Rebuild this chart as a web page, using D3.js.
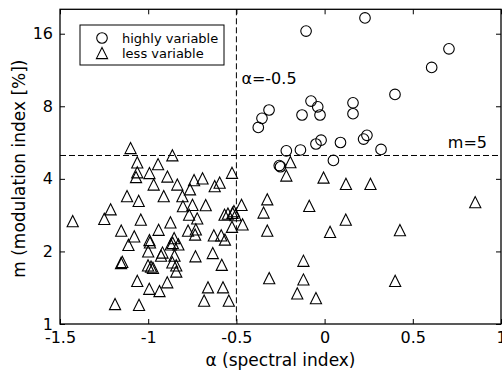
<!DOCTYPE html>
<html>
<head>
<meta charset="utf-8">
<script src="https://cdn.jsdelivr.net/npm/d3@7"></script>
<style>
  html, body { margin: 0; padding: 0; background: #fff; }
  svg { display: block; font-family: "DejaVu Sans", sans-serif; }
</style>
</head>
<body>
<div id="container"></div>
<script>
// [alpha, m] pairs
const highlyVariable = [
  [0.229, 18.6], [-0.105, 16.4], [0.705, 13.85], [0.607, 11.6], [0.399, 8.96],
  [-0.315, 7.72], [-0.355, 7.13], [-0.376, 6.54], [-0.077, 8.41], [-0.039, 7.96],
  [-0.026, 7.36], [-0.128, 7.36], [0.161, 8.27], [0.161, 7.45], [-0.020, 5.79],
  [-0.049, 5.58], [0.090, 5.66], [0.240, 6.06], [0.221, 5.85], [0.320, 5.30],
  [-0.137, 5.27], [-0.217, 5.23], [0.050, 4.77], [-0.257, 4.54], [-0.250, 4.49]
];

const lessVariable = [
  [-1.100, 5.37], [-0.863, 5.01], [-1.062, 4.68], [-0.944, 4.60], [-1.062, 4.26],
  [-1.069, 4.07], [-0.993, 4.23], [-0.891, 4.09], [-0.525, 4.24], [-0.740, 3.95],
  [-0.692, 4.02], [-0.595, 3.86], [-0.623, 3.73], [-0.969, 3.79], [-0.835, 3.79],
  [-0.763, 3.62], [-1.120, 3.39], [-1.054, 3.24], [-0.912, 3.39], [-0.806, 3.39],
  [-1.213, 2.99], [-1.249, 2.73], [-1.428, 2.67], [-1.042, 2.71], [-0.749, 3.12],
  [-0.803, 3.08], [-0.674, 3.11], [-0.471, 3.12], [-0.768, 2.84], [-0.722, 2.74],
  [-0.874, 2.64], [-0.941, 2.46], [-1.153, 2.44], [-1.079, 2.31], [-1.112, 2.13],
  [-0.993, 2.23], [-0.990, 2.18], [-1.000, 2.00], [-0.919, 1.98], [-0.927, 1.92],
  [-0.861, 2.17], [-0.853, 2.27], [-0.829, 2.14], [-0.872, 2.14], [-0.851, 1.92],
  [-0.774, 2.44], [-0.730, 2.47], [-0.734, 2.35], [-0.732, 1.91], [-0.628, 2.33],
  [-0.586, 2.33], [-0.565, 2.24], [-0.634, 1.97], [-0.583, 1.76], [-0.567, 2.84],
  [-0.548, 2.87], [-0.522, 2.89], [-0.514, 2.94], [-0.505, 2.83], [-0.525, 2.53],
  [-0.465, 2.59], [-1.147, 1.81], [-1.154, 1.79], [-1.001, 1.75], [-0.984, 1.73],
  [-0.973, 1.71], [-0.841, 1.75], [-0.863, 1.80], [-0.841, 1.65], [-1.062, 1.51],
  [-0.994, 1.40], [-0.936, 1.37], [-0.892, 1.49], [-1.188, 1.21], [-1.052, 1.20],
  [-0.661, 1.42], [-0.576, 1.42], [-0.683, 1.25], [-0.543, 1.25],
  [-0.194, 4.69], [-0.217, 4.13], [-0.006, 4.05], [0.121, 3.81], [0.260, 3.81],
  [-0.325, 3.29], [-0.346, 2.90], [-0.325, 2.44], [-0.087, 3.09], [0.120, 2.71],
  [0.031, 2.41], [0.427, 2.45], [0.854, 3.20], [-0.120, 1.83], [-0.120, 1.53],
  [-0.314, 1.55], [-0.155, 1.34], [-0.049, 1.28], [0.400, 1.51]
];

const xTicks = [-1.5, -1, -0.5, 0, 0.5, 1];
const xTickLabels = ['-1.5', '-1', '-0.5', '0', '0.5', '1'];
const yTicks = [1, 2, 4, 8, 16];
const alphaCut = -0.5;
const mCut = 5;

const width = 502;
const height = 372;
const plotLeft = 60, plotRight = 501, plotTop = 9.3, plotBottom = 324;

const svg = d3.select('#container')
  .append('svg')
  .attr('width', width)
  .attr('height', height);

const x = d3.scaleLinear().domain([-1.5, 1]).range([plotLeft, plotRight]);
const y = d3.scaleLog().base(2).domain([1, 20.2]).range([plotBottom, plotTop]);

// dashed guide lines
svg.append('line')
  .attr('x1', x(alphaCut)).attr('x2', x(alphaCut))
  .attr('y1', plotTop).attr('y2', plotBottom)
  .attr('stroke', '#000').attr('stroke-width', 1)
  .attr('stroke-dasharray', '6,3');

svg.append('line')
  .attr('x1', plotLeft).attr('x2', plotRight)
  .attr('y1', y(mCut)).attr('y2', y(mCut))
  .attr('stroke', '#000').attr('stroke-width', 1)
  .attr('stroke-dasharray', '6,3');

const tri = 'M0,-5.6L-5.6,5.6L5.6,5.6Z';

svg.append('g')
  .selectAll('path')
  .data(lessVariable)
  .join('path')
  .attr('d', tri)
  .attr('transform', d => `translate(${x(d[0])},${y(d[1])})`)
  .attr('fill', 'none')
  .attr('stroke', '#000')
  .attr('stroke-width', 1.1);

svg.append('g')
  .selectAll('circle')
  .data(highlyVariable)
  .join('circle')
  .attr('cx', d => x(d[0]))
  .attr('cy', d => y(d[1]))
  .attr('r', 5.3)
  .attr('fill', 'none')
  .attr('stroke', '#000')
  .attr('stroke-width', 1.1);

// axes, ticks pointing inwards
const fmt = d => xTickLabels[xTicks.indexOf(d)];

const gx = svg.append('g')
  .attr('transform', `translate(0,${plotBottom})`)
  .call(d3.axisBottom(x).tickValues(xTicks).tickFormat(fmt).tickSize(-5).tickSizeOuter(0).tickPadding(8));
const gxt = svg.append('g')
  .attr('transform', `translate(0,${plotTop})`)
  .call(d3.axisTop(x).tickValues(xTicks).tickFormat('').tickSize(-5).tickSizeOuter(0));
const gy = svg.append('g')
  .attr('transform', `translate(${plotLeft},0)`)
  .call(d3.axisLeft(y).tickValues(yTicks).tickFormat(d3.format('d')).tickSize(-5).tickSizeOuter(0).tickPadding(7));
const gyr = svg.append('g')
  .attr('transform', `translate(${plotRight},0)`)
  .call(d3.axisRight(y).tickValues(yTicks).tickFormat('').tickSize(-5).tickSizeOuter(0));

[gx, gxt, gy, gyr].forEach(g => {
  g.select('.domain').remove();
  g.selectAll('.tick line').attr('stroke', '#000').attr('stroke-width', 1);
  g.selectAll('text')
    .attr('fill', '#000')
    .style('font-family', '"DejaVu Sans", sans-serif')
    .style('font-size', '16px');
});

svg.append('rect')
  .attr('x', plotLeft).attr('y', plotTop)
  .attr('width', plotRight - plotLeft).attr('height', plotBottom - plotTop)
  .attr('fill', 'none')
  .attr('stroke', '#000')
  .attr('stroke-width', 1.3);

// axis titles
svg.append('text')
  .attr('x', (plotLeft + plotRight) / 2)
  .attr('y', 366)
  .attr('text-anchor', 'middle')
  .style('font-size', '17px')
  .text('α (spectral index)');

svg.append('text')
  .attr('transform', `translate(25,${(plotTop + plotBottom) / 2 + 2}) rotate(-90)`)
  .attr('text-anchor', 'middle')
  .style('font-size', '17px')
  .text('m (modulation index [%])');

// annotations
svg.append('text')
  .attr('x', x(alphaCut) + 5)
  .attr('y', 84)
  .style('font-size', '16px')
  .text('α=-0.5');

svg.append('text')
  .attr('x', 487)
  .attr('y', y(mCut) - 7)
  .attr('text-anchor', 'end')
  .style('font-size', '16px')
  .text('m=5');

// legend
const legend = svg.append('g');
legend.append('rect')
  .attr('x', 80).attr('y', 25)
  .attr('width', 144).attr('height', 40)
  .attr('fill', '#fff')
  .attr('stroke', '#000')
  .attr('stroke-width', 1);
legend.append('circle')
  .attr('cx', 102).attr('cy', 38).attr('r', 5.3)
  .attr('fill', 'none').attr('stroke', '#000').attr('stroke-width', 1.1);
legend.append('path')
  .attr('d', tri)
  .attr('transform', 'translate(102,53)')
  .attr('fill', 'none').attr('stroke', '#000').attr('stroke-width', 1.1);
legend.append('text')
  .attr('x', 122).attr('y', 42.5)
  .style('font-size', '13px')
  .text('highly variable');
legend.append('text')
  .attr('x', 122).attr('y', 57.5)
  .style('font-size', '13px')
  .text('less variable');
</script>
</body>
</html>
